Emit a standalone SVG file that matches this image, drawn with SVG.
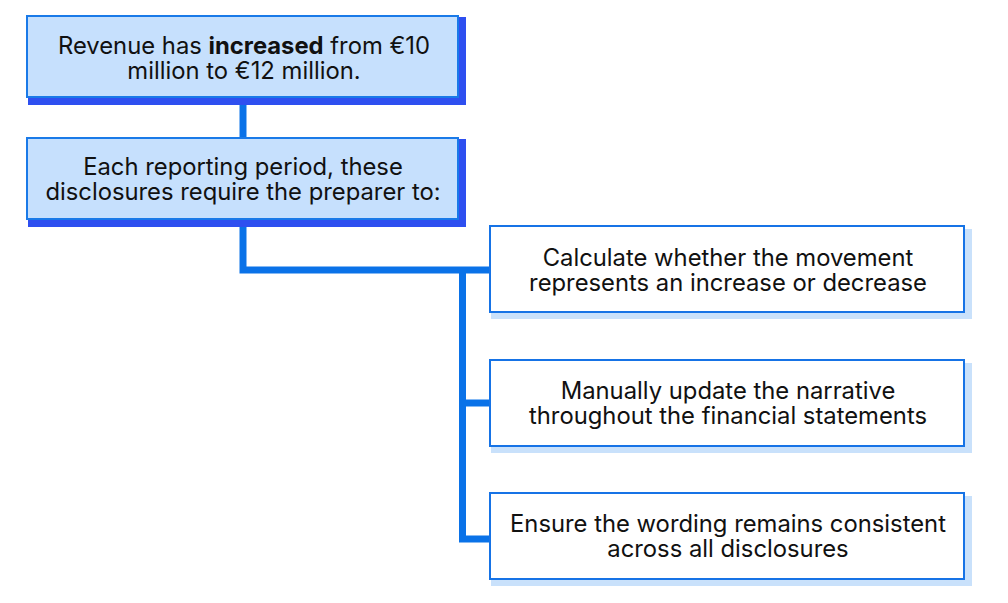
<svg xmlns="http://www.w3.org/2000/svg" width="1008" height="603" viewBox="0 0 1008 603">
<style>
.t{font-family:Inter,"Noto Sans",sans-serif;font-size:23.8px;fill:#111;text-anchor:middle;dominant-baseline:central}
.b{font-weight:700}
.top{fill:#c6e0fd;stroke:#1a7ae8;stroke-width:2}
.topsh{fill:#2e4ff0}
.box{fill:#fff;stroke:#1673e6;stroke-width:2}
.boxsh{fill:#c9e1fb}
.c{stroke:#0a72e8;stroke-width:7;fill:none}
</style>
<rect width="1008" height="603" fill="#fff"/>
<g id="connectors">
<path class="c" d="M243 97V138"/>
<path class="c" d="M243 219V270H490"/>
<path class="c" d="M462.5 270V539H490"/>
<path class="c" d="M462.5 403H490"/>
</g>
<g id="n1">
<rect class="topsh" x="28" y="17" width="438" height="88"/>
<rect class="top" x="27" y="16" width="431" height="81"/>
<text class="t"><tspan x="244" y="45">Revenue has <tspan class="b">increased</tspan> from €10</tspan><tspan x="244" y="70">million to €12 million.</tspan></text>
</g>
<g id="n2">
<rect class="topsh" x="28" y="139" width="438" height="88"/>
<rect class="top" x="27" y="138" width="431" height="81"/>
<text class="t"><tspan x="243" y="166">Each reporting period, these</tspan><tspan x="243" y="191">disclosures require the preparer to:</tspan></text>
</g>
<g id="n3">
<rect class="boxsh" x="491" y="229" width="481" height="90"/>
<rect class="box" x="490" y="226" width="474" height="86"/>
<text class="t"><tspan x="728" y="257">Calculate whether the movement</tspan><tspan x="728" y="282">represents an increase or decrease</tspan></text>
</g>
<g id="n4">
<rect class="boxsh" x="491" y="363" width="481" height="90"/>
<rect class="box" x="490" y="360" width="474" height="86"/>
<text class="t"><tspan x="728" y="390">Manually update the narrative</tspan><tspan x="728" y="415">throughout the financial statements</tspan></text>
</g>
<g id="n5">
<rect class="boxsh" x="491" y="496" width="481" height="90"/>
<rect class="box" x="490" y="493" width="474" height="86"/>
<text class="t"><tspan x="728" y="523">Ensure the wording remains consistent</tspan><tspan x="728" y="548">across all disclosures</tspan></text>
</g>
</svg>
